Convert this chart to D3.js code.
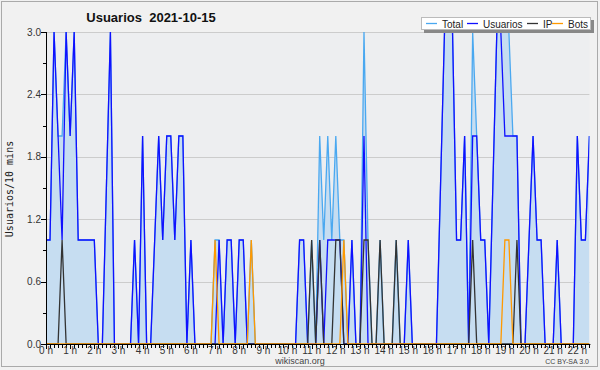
<!DOCTYPE html>
<html>
<head>
<meta charset="utf-8">
<script src="https://cdn.jsdelivr.net/npm/d3@7"></script>
<style>
  body { margin: 0; background: #fff; }
  svg { display: block; }
</style>
</head>
<body>
<svg id="chart" width="600" height="370"></svg>
<script>
// one value every 10 minutes, 00:00 .. 22:30
const total = [
  1,1,3,2,2,3,2,3,1,1, 1,1,1,0,0,1.5,3,0,0,0, 0,0,1,0,2,0,0,1,2,1,
  2,2,1,2,2,0,1,0,0,0, 0,0,1,1,0,1,1,0,1,1, 0,1,0,0,0,0,0,0,0,0,
  0,0,0,1,1,0,1,0,2,1, 2,1,2,1,1,0,1,0,0,3, 1,0,0,1,0,0,0,1,0,0,
  1,0,0,0,0,0,0,0,1.5,3, 3,3,1,1,2,0,3,2,1,1, 0,1.5,3,3,3,3,2,2,0,0,
  1,2,1,1,0,0,0,1,0,0, 0,0,2,1,1,2
];
const usuarios = [
  1,1,3,2,1,3,2,3,1,1, 1,1,1,0,0,1.5,3,0,0,0, 0,0,1,0,2,0,0,1,2,1,
  2,2,1,2,2,0,1,0,0,0, 0,0,0,1,0,1,1,0,1,1, 0,0,0,0,0,0,0,0,0,0,
  0,0,0,1,1,0,0,0,1,0, 1,1,1,1,0,0,1,0,0,2, 0,0,0,0,0,0,0,0,0,0,
  1,0,0,0,0,0,0,0,1.5,3, 3,3,1,1,2,0,2,2,1,1, 0,1.5,3,3,2,2,2,2,0,0,
  1,2,1,1,0,0,0,1,0,0, 0,0,2,1,1,2
];
const ip = [
  0,0,0,0,1,0,0,0,0,0, 0,0,0,0,0,0,0,0,0,0, 0,0,0,0,0,0,0,0,0,0,
  0,0,0,0,0,0,0,0,0,0, 0,0,0,0,0,0,0,0,0,0, 0,0,0,0,0,0,0,0,0,0,
  0,0,0,0,0,0,1,0,1,0, 0,0,1,1,0,0,0,0,0,1, 1,0,0,1,0,0,0,1,0,0,
  0,0,0,0,0,0,0,0,0,0, 0,0,0,0,0,0,1,0,0,0, 0,0,0,0,0,0,0,1,0,0,
  0,0,0,0,0,0,0,0,0,0, 0,0,0,0,0,0
];
const bots = [
  0,0,0,0,0,0,0,0,0,0, 0,0,0,0,0,0,0,0,0,0, 0,0,0,0,0,0,0,0,0,0,
  0,0,0,0,0,0,0,0,0,0, 0,0,1,0,0,0,0,0,0,0, 0,1,0,0,0,0,0,0,0,0,
  0,0,0,0,0,0,0,0,0,0, 0,0,0,0,1,0,0,0,0,0, 0,0,0,0,0,0,0,0,0,0,
  0,0,0,0,0,0,0,0,0,0, 0,0,0,0,0,0,0,0,0,0, 0,0,0,0,1,1,0,0,0,0,
  0,0,0,0,0,0,0,0,0,0, 0,0,0,0,0,0
];
const hourLabels = d3.range(0, 23).map(h => h + " h");
const yTicks = [0, 0.6, 1.2, 1.8, 2.4, 3.0];
const legendItems = ["Total", "Usuarios", "IP", "Bots"];
const colors = {Total: "#4aa8f0", Usuarios: "#1010ff", IP: "#333333", Bots: "#ff9900"};

const W = 600, H = 370;
const pL = 46, pR = 589.4, pT = 32, pB = 344;

const svg = d3.select("#chart");

svg.append("rect").attr("width", W).attr("height", H).attr("fill", "#f1f1f1");
svg.append("rect").attr("x", 1.5).attr("y", 1.5).attr("width", W - 4).attr("height", H - 5)
  .attr("fill", "none").attr("stroke", "#aaaaaa");

const x = d3.scaleLinear().domain([0, total.length - 1]).range([pL, pR]);
const y = d3.scaleLinear().domain([0, 3]).range([pB, pT]);

svg.append("rect").attr("x", pL).attr("y", pT)
  .attr("width", pR - pL).attr("height", pB - pT).attr("fill", "#edeef0");

// grid
svg.append("g").selectAll("line").data(yTicks.slice(1)).join("line")
  .attr("x1", pL).attr("x2", pR)
  .attr("y1", d => Math.round(y(d)) + 0.5).attr("y2", d => Math.round(y(d)) + 0.5)
  .attr("stroke", "#cccccc");

svg.append("clipPath").attr("id", "clip")
  .append("rect").attr("x", pL).attr("y", pT).attr("width", pR - pL).attr("height", pB - pT);

const plot = svg.append("g").attr("clip-path", "url(#clip)");

const area = d3.area().x((d, i) => x(i)).y0(y(0)).y1(d => y(d));
plot.append("path").datum(total).attr("d", area).attr("fill", "#c6ddf1");

const line = d3.line().x((d, i) => x(i)).y(d => y(d));
[["Total", total], ["Usuarios", usuarios], ["IP", ip], ["Bots", bots]].forEach(([name, vals]) => {
  plot.append("path").datum(vals).attr("d", line)
    .attr("fill", "none").attr("stroke", colors[name]).attr("stroke-width", 1.3);
});

// y axis
const ya = svg.append("g");
ya.append("line").attr("x1", pL + 0.5).attr("x2", pL + 0.5).attr("y1", pT).attr("y2", pB + 1)
  .attr("stroke", "#000");
ya.selectAll("line.tk").data(d3.range(0, 3.01, 0.3)).join("line").attr("class", "tk")
  .attr("x1", (d, i) => i % 2 ? pL - 3 : pL - 5).attr("x2", pL)
  .attr("y1", d => Math.round(y(d)) + 0.5).attr("y2", d => Math.round(y(d)) + 0.5)
  .attr("stroke", "#000");
ya.selectAll("text").data(yTicks).join("text")
  .attr("x", pL - 5).attr("y", d => y(d) + 3.5)
  .attr("text-anchor", "end").attr("font-family", "Liberation Sans, sans-serif")
  .attr("font-size", 10).attr("fill", "#333").text(d => d.toFixed(1));

// x axis
const xa = svg.append("g");
xa.append("line").attr("x1", pL).attr("x2", pR + 1).attr("y1", pB + 0.5).attr("y2", pB + 0.5)
  .attr("stroke", "#000");
xa.selectAll("line.tk").data(d3.range(0, total.length)).join("line").attr("class", "tk")
  .attr("x1", d => Math.round(x(d)) + 0.5).attr("x2", d => Math.round(x(d)) + 0.5)
  .attr("y1", pB).attr("y2", d => d % 6 === 0 ? pB + 5 : pB + 4)
  .attr("stroke", "#000");
xa.selectAll("text").data(hourLabels).join("text")
  .attr("x", (d, i) => x(i * 6)).attr("y", pB + 10)
  .attr("text-anchor", "middle").attr("font-family", "Liberation Sans, sans-serif")
  .attr("font-size", 10).attr("fill", "#333").text(d => d);

// titles
svg.append("text").attr("x", 151).attr("y", 22).attr("text-anchor", "middle")
  .attr("font-family", "Liberation Sans, sans-serif").attr("font-weight", "bold")
  .attr("font-size", 13).attr("fill", "#111").attr("xml:space", "preserve")
  .text("Usuarios  2021-10-15");

svg.append("text").attr("transform", "translate(13,189) rotate(-90)").attr("text-anchor", "middle")
  .attr("font-family", "DejaVu Sans Mono, monospace").attr("font-size", 10).attr("fill", "#222")
  .text("Usuarios/10 mins");

svg.append("text").attr("x", 300).attr("y", 364).attr("text-anchor", "middle")
  .attr("font-family", "Liberation Sans, sans-serif").attr("font-size", 9).attr("fill", "#444")
  .text("wikiscan.org");

svg.append("text").attr("x", 589).attr("y", 364).attr("text-anchor", "end")
  .attr("font-family", "Liberation Sans, sans-serif").attr("font-size", 7).attr("fill", "#444")
  .text("CC BY-SA 3.0");

// legend
const lg = svg.append("g");
lg.append("rect").attr("x", 424).attr("y", 20).attr("width", 170).attr("height", 13).attr("fill", "#888");
lg.append("rect").attr("x", 421.5).attr("y", 17.5).attr("width", 169).attr("height", 12)
  .attr("fill", "#fff").attr("stroke", "#bbb");
const legendX = [426, 467, 527, 552];
legendItems.forEach((name, i) => {
  lg.append("line").attr("x1", legendX[i]).attr("x2", legendX[i] + 11).attr("y1", 23.5).attr("y2", 23.5)
    .attr("stroke", colors[name]).attr("stroke-width", 1.3);
  lg.append("text").attr("x", legendX[i] + 16).attr("y", 27.5)
    .attr("font-family", "Liberation Sans, sans-serif").attr("font-size", 10).attr("fill", "#222")
    .text(name);
});
</script>
</body>
</html>
